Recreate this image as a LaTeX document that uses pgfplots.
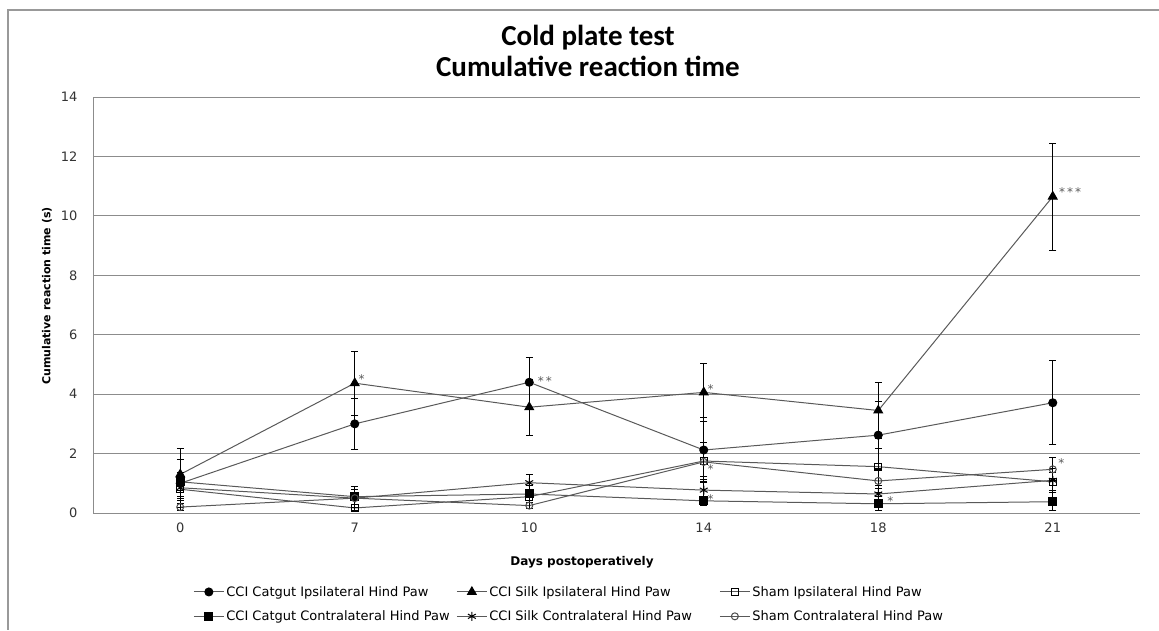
\documentclass[border=0pt]{standalone}
\usepackage{fontspec}
\setmainfont{DejaVu Sans}
\newfontfamily\titlefont{Carlito}
\usepackage{pgfplots}
\usepackage{pgfplotstable}
\pgfplotsset{compat=1.18}

% day index, mean, error
\pgfplotstableread{
x y e
0 1.00 0.80
1 3.00 0.85
2 4.40 0.84
3 2.12 1.10
4 2.62 1.13
5 3.71 1.42
}\catgutipsi
\pgfplotstableread{
x y e
0 1.30 0.88
1 4.37 1.08
2 3.56 0.94
3 4.06 0.98
4 3.45 0.94
5 10.65 1.80
}\silkipsi
\pgfplotstableread{
x y e
0 0.80 0.30
1 0.17 0.12
2 0.55 0.20
3 1.75 0.62
4 1.56 0.62
5 1.05 0.30
}\shamipsi
\pgfplotstableread{
x y e
0 1.05 0.30
1 0.55 0.35
2 0.64 0.30
3 0.41 0.15
4 0.31 0.24
5 0.38 0.30
}\catgutcontra
\pgfplotstableread{
x y e
0 0.85 0.30
1 0.50 0.40
2 1.02 0.28
3 0.77 0.30
4 0.64 0.20
5 1.10 0.40
}\silkcontra
\pgfplotstableread{
x y e
0 0.20 0.12
1 0.50 0.30
2 0.25 0.10
3 1.72 0.50
4 1.08 0.40
5 1.47 0.39
}\shamcontra

\begin{document}
\begin{tikzpicture}[x=1pt,y=1pt,
  sig/.style={font=\fontsize{12}{12}\selectfont, text=black!65, inner sep=0pt, anchor=center, yshift=-2.5pt}]
\useasboundingbox (0,0) rectangle (1159,-630);
% chart frame
\draw[black!40, line width=1.5pt] (1159,-10) -- (8,-10) -- (8,-630);

\begin{axis}[
  at={(93pt,-513pt)}, anchor=south west,
  scale only axis, width=1047pt, height=416pt,
  xmin=-0.5, xmax=5.5, ymin=0, ymax=14,
  xtick={0,...,5}, xticklabels={0,7,10,14,18,21},
  ytick={0,2,...,14},
  ymajorgrids, grid style={black!45, line width=0.8pt},
  axis x line*=bottom, axis y line*=left,
  axis line style={black!45, line width=1pt},
  major tick length=0pt,
  /pgf/number format/assume math mode=true,
  tick label style={font=\fontsize{13}{15}\selectfont, text=black!80},
  xticklabel style={yshift=-6pt},
  yticklabel style={xshift=-12pt},
  clip=false,
  every axis plot/.append style={line width=1pt, draw=black!65},
  error bars/y dir=both, error bars/y explicit,
  error bars/error bar style={black, line width=1pt},
  error bars/error mark options={black, line width=1pt, mark size=3.5pt, rotate=90},
  legend columns=3,
  legend image code/.code={\draw[mark repeat=2,mark phase=2,#1] plot coordinates {(0pt,0pt) (15pt,0pt) (30pt,0pt)};},
  legend style={at={(0.0928,-0.166)}, anchor=north west, draw=none, fill=none,
    font=\fontsize{13}{15}\selectfont, row sep=9pt,
    nodes={inner sep=2pt, anchor=west}},
]
\addplot[mark=*, mark size=4pt, mark options={black, fill=black}]
  table[x=x, y=y, y error=e]{\catgutipsi};
\addlegendentry{\makebox[228pt][l]{CCI Catgut Ipsilateral Hind Paw}}
\addplot[mark=triangle*, mark size=5pt, mark options={black, fill=black}]
  table[x=x, y=y, y error=e]{\silkipsi};
\addlegendentry{\makebox[228pt][l]{CCI Silk Ipsilateral Hind Paw}}
\addplot[mark=square, mark size=3.5pt, mark options={black, fill=white}]
  table[x=x, y=y, y error=e]{\shamipsi};
\addlegendentry{Sham Ipsilateral Hind Paw}
\addplot[mark=square*, mark size=4pt, mark options={black, fill=black}]
  table[x=x, y=y, y error=e]{\catgutcontra};
\addlegendentry{\makebox[228pt][l]{CCI Catgut Contralateral Hind Paw}}
\addplot[mark=asterisk, mark size=4.5pt, mark options={black}]
  table[x=x, y=y, y error=e]{\silkcontra};
\addlegendentry{\makebox[228pt][l]{CCI Silk Contralateral Hind Paw}}
\addplot[mark=o, mark size=3.5pt, mark options={black!70, fill=white}]
  table[x=x, y=y, y error=e]{\shamcontra};
\addlegendentry{Sham Contralateral Hind Paw}

% significance marks
\node[sig] at (axis cs:1.04,4.58) {*};
\node[sig] at (axis cs:2.09,4.51) {*\kern2pt*};
\node[sig] at (axis cs:3.04,4.24) {*};
\node[sig] at (axis cs:3.04,1.55) {*};
\node[sig] at (axis cs:3.04,0.57) {*};
\node[sig] at (axis cs:4.07,0.47) {*};
\node[sig] at (axis cs:5.10,10.90) {*\kern2pt*\kern2pt*};
\node[sig] at (axis cs:5.05,1.75) {*};
\end{axis}

\node[font=\titlefont\bfseries\fontsize{29}{31}\selectfont, align=center] at (588,-51)
  {Cold plate test\\Cumulative reaction time};
\node[font=\bfseries\fontsize{12}{14}\selectfont] at (582,-562) {Days postoperatively};
\node[font=\bfseries\fontsize{11}{13}\selectfont, rotate=90] at (47,-296) {Cumulative reaction time (s)};
\end{tikzpicture}
\end{document}
